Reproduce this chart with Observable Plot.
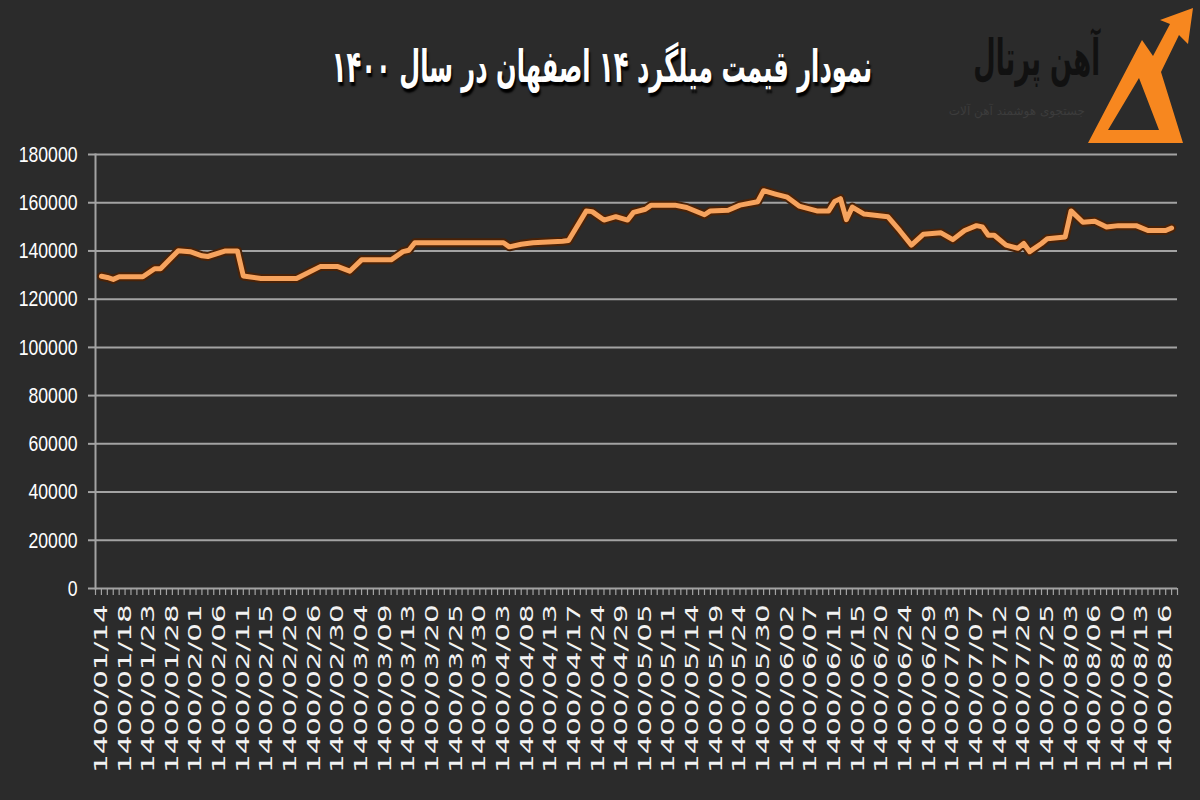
<!DOCTYPE html>
<html>
<head>
<meta charset="utf-8">
<script src="https://cdn.jsdelivr.net/npm/d3@7"></script>
<script src="https://cdn.jsdelivr.net/npm/@observablehq/plot@0.6"></script>
<style>
  html, body { margin: 0; padding: 0; background: #2b2b2b; }
  #wrap { position: relative; width: 1200px; height: 800px; overflow: hidden; background: #2b2b2b; }
  #header { position: relative; width: 1200px; height: 130px; }
  #title { position: absolute; left: 200px; width: 804px; top: 46px; text-align: center; direction: rtl;
           font-family: "DejaVu Sans", sans-serif; font-weight: bold; font-size: 34px; color: #fff;
           text-shadow: 2px 3px 2px #000; white-space: nowrap; transform: scale(0.71, 1.3); transform-origin: 50% 50%; }
  #brand { position: absolute; left: 900px; top: 36px; width: 200px; text-align: right; direction: rtl;
           font-family: "DejaVu Sans", sans-serif; font-weight: bold; font-size: 38px; color: #111; white-space: nowrap;
           transform: scale(0.68, 1.3); transform-origin: 100% 50%; }
  #brandsub { position: absolute; left: 935px; top: 104px; width: 150px; text-align: right; direction: rtl;
           font-family: "DejaVu Sans", sans-serif; font-size: 12px; color: #3c3c3c; white-space: nowrap; }
  #logo { position: absolute; left: 1080px; top: 0px; }
  #chart { position: absolute; left: 0; top: 130px; }
</style>
</head>
<body>
<div id="wrap">
  <div id="header">
    <div id="title">نمودار قیمت میلگرد ۱۴ اصفهان در سال ۱۴۰۰</div>
    <div id="brand">آهن پرتال</div>
    <div id="brandsub">جستجوی هوشمند آهن آلات</div>
    <svg id="logo" width="120" height="150" viewBox="1080 0 120 150">
      <path fill="#f7871f" fill-rule="evenodd"
        d="M1088,143 L1142,40 L1153,56 L1170,24 L1160,20 L1193,8 L1188,44 L1179,35 L1161,72 L1183,143 Z
           M1108,130 L1139,78 L1159,130 Z"/>
    </svg>
  </div>
  <div id="chart"></div>
</div>
<script>
// ---- data ----
const dateLabels = [
  "1400/01/14","1400/01/18","1400/01/23","1400/01/28","1400/02/01","1400/02/06","1400/02/11","1400/02/15",
  "1400/02/20","1400/02/26","1400/02/30","1400/03/04","1400/03/09","1400/03/13","1400/03/20","1400/03/25",
  "1400/03/30","1400/04/03","1400/04/08","1400/04/13","1400/04/17","1400/04/24","1400/04/29","1400/05/05",
  "1400/05/11","1400/05/14","1400/05/19","1400/05/24","1400/05/30","1400/06/02","1400/06/07","1400/06/11",
  "1400/06/15","1400/06/20","1400/06/24","1400/06/29","1400/07/03","1400/07/07","1400/07/12","1400/07/20",
  "1400/07/25","1400/08/03","1400/08/06","1400/08/10","1400/08/13","1400/08/16"
];
// trading-day index of each reading (category position on the x axis)
const dayIndex = [
  0, 1, 2, 3, 7, 9, 10, 13, 15, 17, 18, 21, 23, 24, 27, 33, 37, 40, 42, 44,
  49, 51, 52, 53, 68, 69, 71, 73, 78, 79, 82, 83, 85, 87, 89, 90, 92, 93, 97, 99,
  102, 103, 106, 108, 111, 112, 114, 116, 118, 121, 123, 124, 125, 126, 127, 129, 133, 135, 137, 139,
  142, 144, 146, 148, 149, 150, 151, 153, 155, 156, 157, 159, 160, 163, 164, 166, 168, 170, 172, 175,
  177, 180, 181
];
const price = [
  129500, 129000, 128200, 129300, 129300, 132600, 132600, 140100, 139700, 138000, 137700, 140000, 140000, 129600, 128600, 128600, 133500, 133500, 131600, 136300,
  136300, 139700, 140300, 143400, 143400, 141700, 142800, 143400, 144000, 144300, 156600, 156300, 152800, 154200, 152800, 156000, 157300, 159000, 159000, 158000,
  155000, 156600, 156900, 159000, 160400, 165000, 163600, 162300, 158600, 156600, 156600, 160500, 161700, 153000, 158200, 155300, 154200, 148500, 142400, 146900,
  147500, 144700, 148500, 150500, 150000, 146500, 146500, 142400, 141100, 143100, 139700, 143100, 145100, 145800, 156600, 151900, 152300, 149900, 150500, 150500,
  148500, 148500, 149500
];
const yTicks = [0, 20000, 40000, 60000, 80000, 100000, 120000, 140000, 160000, 180000];

const data = dayIndex.map((d, i) => ({day: d, price: price[i]}));
const labelPos = dateLabels.map((_, i) => i * 4);
const categoryEdges = d3.range(-1, 183);

const gridColor = "#a3a3a3";

const chart = Plot.plot({
  width: 1200,
  height: 670,
  marginTop: 24,
  marginLeft: 95,
  marginRight: 23,
  marginBottom: 212,
  style: {background: "transparent", color: "#fff", overflow: "visible"},
  x: {domain: [-1, 182], axis: null, label: null},
  y: {domain: [0, 180000], axis: null, label: null},
  marks: [
    Plot.gridY(yTicks, {stroke: gridColor, strokeOpacity: 1, strokeWidth: 2}),
    Plot.axisY({ticks: yTicks, label: null, tickSize: 7, tickPadding: 11, stroke: gridColor, strokeWidth: 2,
      fill: "#fff", fontSize: 21, fontFamily: '"Liberation Sans", sans-serif', tickFormat: d3.format("d")}),
    Plot.frame({anchor: "left", stroke: gridColor, strokeWidth: 2}),
    Plot.axisX({ticks: categoryEdges, label: null, tickSize: 7, stroke: gridColor, strokeWidth: 1.2, tickFormat: () => ""}),
    Plot.axisX({ticks: labelPos, label: null, tickSize: 0, tickPadding: 16, tickRotate: -90,
      tickFormat: i => dateLabels[Math.round(i / 4)], fill: "#f2f2f2", fontSize: 17,
      fontFamily: '"DejaVu Sans", sans-serif'}),
    Plot.line(data, {x: "day", y: "price", stroke: "#4a2207", strokeWidth: 9, strokeLinejoin: "round", strokeLinecap: "round"}),
    Plot.line(data, {x: "day", y: "price", stroke: "#f6a35e", strokeWidth: 5, strokeLinejoin: "round", strokeLinecap: "round"})
  ]
});
document.getElementById("chart").appendChild(chart);

// stretch the rotated date labels along their length, as in the reference
chart.querySelectorAll('g[aria-label="x-axis tick label"] text').forEach(t => {
  const tr = t.getAttribute("transform") || "";
  t.setAttribute("transform", tr + " scale(1.72,1)");
});
// narrower, taller value labels as in the reference
chart.querySelectorAll('g[aria-label="y-axis tick label"] text').forEach(t => {
  const tr = t.getAttribute("transform") || "";
  t.setAttribute("transform", tr + " scale(0.84,1.08)");
});
</script>
</body>
</html>
